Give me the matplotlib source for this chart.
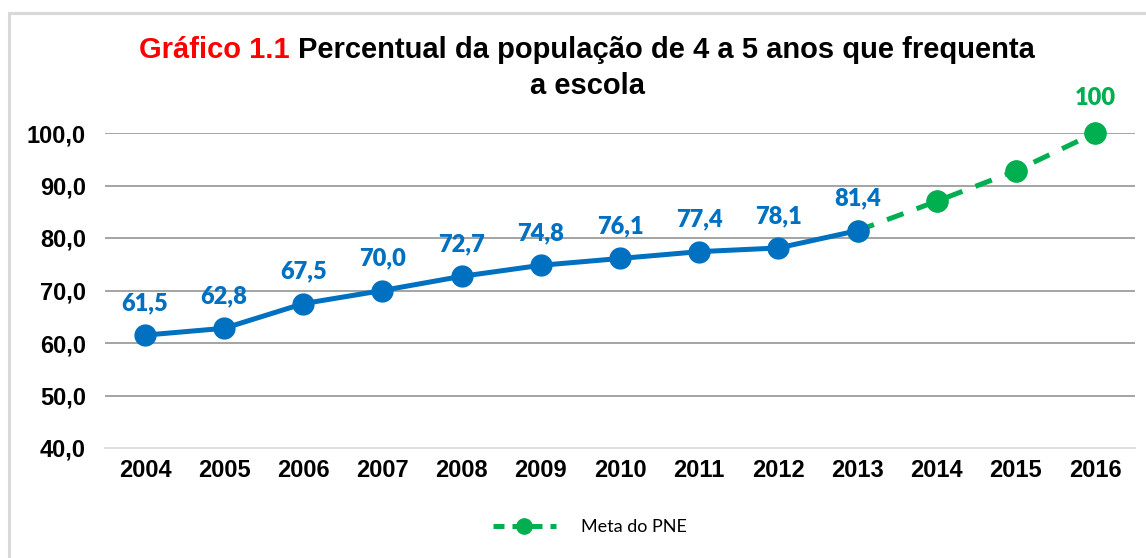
import numpy as np
import matplotlib
matplotlib.use("Agg")
import matplotlib.pyplot as plt
from matplotlib.patches import Rectangle
from matplotlib.lines import Line2D

# data
years = ["2004", "2005", "2006", "2007", "2008", "2009", "2010",
         "2011", "2012", "2013", "2014", "2015", "2016"]
observed = [61.5, 62.8, 67.5, 70.0, 72.7, 74.8, 76.1, 77.4, 78.1, 81.4]
observed_labels = ["61,5", "62,8", "67,5", "70,0", "72,7", "74,8", "76,1",
                   "77,4", "78,1", "81,4"]
meta_years = ["2013", "2014", "2015", "2016"]
meta = [81.4, 87.0, 92.8, 100.0]
yticks = [40, 50, 60, 70, 80, 90, 100]
ytick_labels = ["40,0", "50,0", "60,0", "70,0", "80,0", "90,0", "100,0"]

BLUE = "#0070C0"
GREEN = "#00B050"
TITLE_FONT = "Liberation Sans"
LABEL_FONT = "Lato"

W, H = 1146, 558
fig = plt.figure(figsize=(W / 100, H / 100), dpi=100)
ax = fig.add_axes([105.4 / W, 1 - 448 / H, (1134.6 - 105.4) / W, (448 - 133) / H])

x_obs = np.arange(len(observed))
x_meta = np.array([years.index(y) for y in meta_years])

ax.plot(x_meta, meta, color=GREEN, lw=3.6, ls=(0, (3.5, 2.8)),
        marker="o", ms=15, zorder=3, clip_on=False, label="Meta do PNE")
ax.plot(x_meta[1:], meta[1:], ls="none", marker="o", ms=15, color=GREEN,
        zorder=4, clip_on=False)
ax.plot(x_obs, observed, color=BLUE, lw=3.6, marker="o", ms=15, zorder=5,
        clip_on=False)

for xi, v, s in zip(x_obs, observed, observed_labels):
    ax.annotate(s, (xi, v), xytext=(0, 18), textcoords="offset points",
                ha="center", va="baseline", color=BLUE, fontsize=17,
                fontweight="heavy", family=LABEL_FONT)
ax.annotate("100", (x_meta[-1], meta[-1]), xytext=(0, 20),
            textcoords="offset points", ha="center", va="baseline",
            color=GREEN, fontsize=17, fontweight="heavy", family=LABEL_FONT)

ax.set_xlim(-0.5, len(years) - 0.5)
ax.set_ylim(40, 100)
ax.set_xticks(np.arange(len(years)))
ax.set_xticklabels(years, fontsize=17, fontweight="bold", family=TITLE_FONT)
ax.set_yticks(yticks)
ax.set_yticklabels(ytick_labels, fontsize=17, fontweight="bold", family=TITLE_FONT)
ax.tick_params(length=0)
ax.tick_params(axis="x", pad=8)
ax.tick_params(axis="y", pad=14)
for sp in ["top", "right", "left"]:
    ax.spines[sp].set_visible(False)
ax.spines["bottom"].set_color("#d9d9d9")
ax.spines["bottom"].set_linewidth(1.2)
for yv in yticks[1:]:
    ax.axhline(yv, color="#8c8c8c", lw=1.1, zorder=1)

# two-colour title, first line
t1 = fig.text(0, 1 - 50 / H, "Gráfico 1.1 ", color="#FF0000", fontsize=21,
              fontweight="bold", family=TITLE_FONT, va="center")
t2 = fig.text(0, 1 - 50 / H, "Percentual da população de 4 a 5 anos que frequenta",
              color="black", fontsize=21, fontweight="bold", family=TITLE_FONT,
              va="center")
fig.canvas.draw()
r = fig.canvas.get_renderer()
w1 = t1.get_window_extent(r).width
w2 = t2.get_window_extent(r).width
x0 = 587 - (w1 + w2) / 2
t1.set_x(x0 / W)
t2.set_x((x0 + w1) / W)
fig.text(587 / W, 1 - 86 / H, "a escola", color="black", fontsize=21,
         fontweight="bold", family=TITLE_FONT, ha="center", va="center")

handle = Line2D([], [], color=GREEN, lw=3.6, ls=(0, (2.2, 1.6)), marker="o", ms=11)
fig.legend([handle], ["Meta do PNE"], loc="center", bbox_to_anchor=(590 / W, 1 - 527 / H),
           frameon=False, prop={"family": LABEL_FONT, "size": 13},
           handlelength=3.5, handletextpad=1.4)

# light frame around the chart area
fig.add_artist(Rectangle((9 / W, -0.1), 1.2, 1.1 - 13 / H, fill=False,
                         ec="#d9d9d9", lw=2.2, transform=fig.transFigure))

fig.savefig("out.png", dpi=100)
